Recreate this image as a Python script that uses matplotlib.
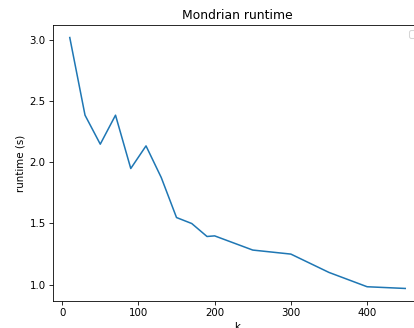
import matplotlib
matplotlib.use("Agg")
import matplotlib.pyplot as plt

k = [10, 30, 50, 70, 90, 110, 130, 150, 170, 190, 200, 250, 300, 350, 400, 450]
runtime = [3.02, 2.385, 2.148, 2.385, 1.949, 2.134, 1.875, 1.548, 1.499, 1.393, 1.398,
           1.282, 1.249, 1.099, 0.982, 0.968]

dpi = 74
fig = plt.figure(figsize=(414 / dpi, 328 / dpi), dpi=dpi)
ax = fig.add_axes([53 / 414, 27 / 328, 369 / 414, 276 / 328])
ax.plot(k, runtime)
ax.set_title("Mondrian runtime")
ax.set_xlabel("k")
ax.set_ylabel("runtime (s)")
ax.legend(handles=[], loc="upper right")

fig.savefig("out.png", dpi=dpi)
